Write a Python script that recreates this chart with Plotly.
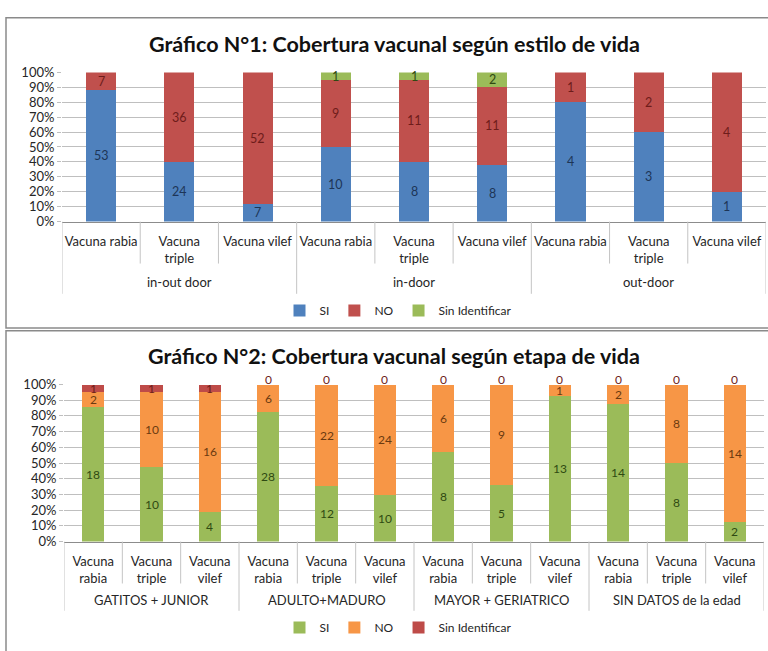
import plotly.graph_objects as go

# ---- Gráfico 1: cobertura vacunal según estilo de vida ----
estilos = ["in-out door", "in-door", "out-door"]
vacunas_1 = ["Vacuna rabia", "Vacuna<br>triple", "Vacuna vilef"]
si_1 = [53, 24, 7, 10, 8, 8, 4, 3, 1]
no_1 = [7, 36, 52, 9, 11, 11, 1, 2, 4]
sin_id_1 = [0, 0, 0, 1, 1, 2, 0, 0, 0]

# ---- Gráfico 2: cobertura vacunal según etapa de vida ----
etapas = ["GATITOS + JUNIOR", "ADULTO+MADURO", "MAYOR + GERIATRICO", "SIN DATOS de la edad"]
vacunas_2 = ["Vacuna<br>rabia", "Vacuna<br>triple", "Vacuna<br>vilef"]
si_2 = [18, 10, 4, 28, 12, 10, 8, 5, 13, 14, 8, 2]
no_2 = [2, 10, 16, 6, 22, 24, 6, 9, 1, 2, 8, 14]
sin_id_2 = [1, 1, 1, 0, 0, 0, 0, 0, 0, 0, 0, 0]

tick_pct = list(range(0, 101, 10))
tick_pct_text = [f"{v}%" for v in tick_pct]

W, H = 768, 651
FONT = "Lato, 'Open Sans', sans-serif"

BLUE, RED, GREEN, ORANGE, MAROON = "#4F81BD", "#C0504D", "#9BBB59", "#F79646", "#BE4B48"
TXT_BLUE, TXT_RED, TXT_GREEN, TXT_ORANGE = "#1d3557", "#6e1c1a", "#2f4a12", "#6b3a10"
GRID = "#BFBFBF"
AXIS = "#8C8C8C"
DIVIDER = "#C4C4C4"
TEXT = "#262626"


def px(x):
    return x / W


def py(y):
    return 1 - y / H


fig = go.Figure()

n1 = len(estilos) * len(vacunas_1)
n2 = len(etapas) * len(vacunas_2)
pos_1 = list(range(n1))
pos_2 = list(range(n2))

series_1 = [("SI", si_1, BLUE, TXT_BLUE), ("NO", no_1, RED, TXT_RED),
            ("Sin Identificar", sin_id_1, GREEN, TXT_GREEN)]
series_2 = [("SI", si_2, GREEN, TXT_GREEN), ("NO", no_2, ORANGE, TXT_ORANGE),
            ("Sin Identificar", sin_id_2, MAROON, TXT_RED)]

for name, vals, col, _ in series_1:
    fig.add_trace(go.Bar(x=pos_1, y=vals, name=name, marker=dict(color=col, line=dict(width=0)),
                         xaxis="x", yaxis="y", legend="legend", hoverinfo="skip"))
for name, vals, col, _ in series_2:
    fig.add_trace(go.Bar(x=pos_2, y=vals, name=name, marker=dict(color=col, line=dict(width=0)),
                         xaxis="x2", yaxis="y2", legend="legend2", hoverinfo="skip"))

annotations = []
shapes = []


def add_labels(series, xref, yref, show_zero, size):
    """Value label at the middle of every stacked segment."""
    n = len(series[0][1])
    for i in range(n):
        total = sum(s[1][i] for s in series)
        cum = 0
        for _, vals, _, tcol in series:
            v = vals[i]
            if v > 0 or show_zero:
                mid = (cum + v / 2) / total * 100
                annotations.append(dict(x=i, y=mid, xref=xref, yref=yref, text=str(v),
                                        showarrow=False, xanchor="center", yanchor="middle",
                                        yshift=5 if v == 0 else 0,
                                        font=dict(size=size, color=tcol, family=FONT)))
            cum += v


add_labels(series_1, "x", "y", False, 12.5)
add_labels(series_2, "x2", "y2", True, 12)


def add_groups(groups, per_group, xref, y_axis_px, y_short_px, y_long_px, y_label_px):
    """Group captions under the category labels and the separators between them."""
    n = len(groups) * per_group
    for b in range(n + 1):
        edge = b - 0.5
        long_line = b % per_group == 0
        shapes.append(dict(type="line", xref=xref, yref="paper", x0=edge, x1=edge,
                           y0=py(y_axis_px), y1=py(y_long_px if long_line else y_short_px),
                           line=dict(color=DIVIDER, width=1)))
    for g, name in enumerate(groups):
        annotations.append(dict(x=g * per_group + (per_group - 1) / 2, y=py(y_label_px),
                                xref=xref, yref="paper", text=name, showarrow=False,
                                xanchor="center", yanchor="middle",
                                font=dict(size=13, color=TEXT, family=FONT)))


add_groups(estilos, len(vacunas_1), "x", 219, 262, 293, 281)
add_groups(etapas, len(vacunas_2), "x2", 547, 590, 618, 607)

for title, y_title in [("Gráfico N°1: Cobertura vacunal según estilo de vida", 37),
                       ("Gráfico N°2: Cobertura vacunal según etapa de vida", 357)]:
    annotations.append(dict(x=px(394), y=py(y_title), xref="paper", yref="paper",
                            showarrow=False, xanchor="center", yanchor="middle",
                            text=f"<b>{title}</b>",
                            font=dict(size=21.5, color="#111", family=FONT)))

shapes += [
    dict(type="rect", xref="paper", yref="paper", x0=px(6), x1=px(772), y0=py(328), y1=py(10),
         line=dict(color="#8a8a8a", width=1.5)),
    dict(type="rect", xref="paper", yref="paper", x0=px(6), x1=px(772), y0=py(660), y1=py(331),
         line=dict(color="#8a8a8a", width=1.5)),
]

xaxis_common = dict(showline=True, linecolor=AXIS, linewidth=1, ticks="", showgrid=False,
                    zeroline=False, tickangle=0, ticklabelstandoff=8,
                    tickfont=dict(size=13, color=TEXT, family=FONT), fixedrange=True)
yaxis_common = dict(range=[0, 100], tickvals=tick_pct, ticktext=tick_pct_text, showgrid=True,
                    gridcolor=GRID, gridwidth=1, zeroline=False, showline=False,
                    ticks="outside", ticklen=4, tickcolor=GRID,
                    tickfont=dict(size=13, color=TEXT, family=FONT), fixedrange=True)

fig.update_layout(
    width=W, height=H, autosize=False,
    margin=dict(l=0, r=0, t=0, b=0),
    paper_bgcolor="white", plot_bgcolor="white",
    barmode="stack", barnorm="percent", bargap=0.615,
    font=dict(family=FONT),
    xaxis=dict(domain=[px(62), px(766)], anchor="y", range=[-0.5, n1 - 0.5],
               tickvals=pos_1, ticktext=vacunas_1 * len(estilos), **xaxis_common),
    yaxis=dict(domain=[py(219), py(66)], anchor="x", **yaxis_common),
    xaxis2=dict(domain=[px(64), px(764)], anchor="y2", range=[-0.5, n2 - 0.5],
                tickvals=pos_2, ticktext=vacunas_2 * len(etapas), **xaxis_common),
    yaxis2=dict(domain=[py(547), py(386)], anchor="x2", **yaxis_common),
    legend=dict(orientation="h", x=px(398), xanchor="center", y=py(310), yanchor="middle",
                font=dict(size=12, color=TEXT, family=FONT), itemwidth=30,
                traceorder="normal"),
    legend2=dict(orientation="h", x=px(398), xanchor="center", y=py(635), yanchor="middle",
                 font=dict(size=12, color=TEXT, family=FONT), itemwidth=30,
                 traceorder="normal"),
    annotations=annotations,
    shapes=shapes,
    showlegend=True,
)

fig.write_html("out.html")
